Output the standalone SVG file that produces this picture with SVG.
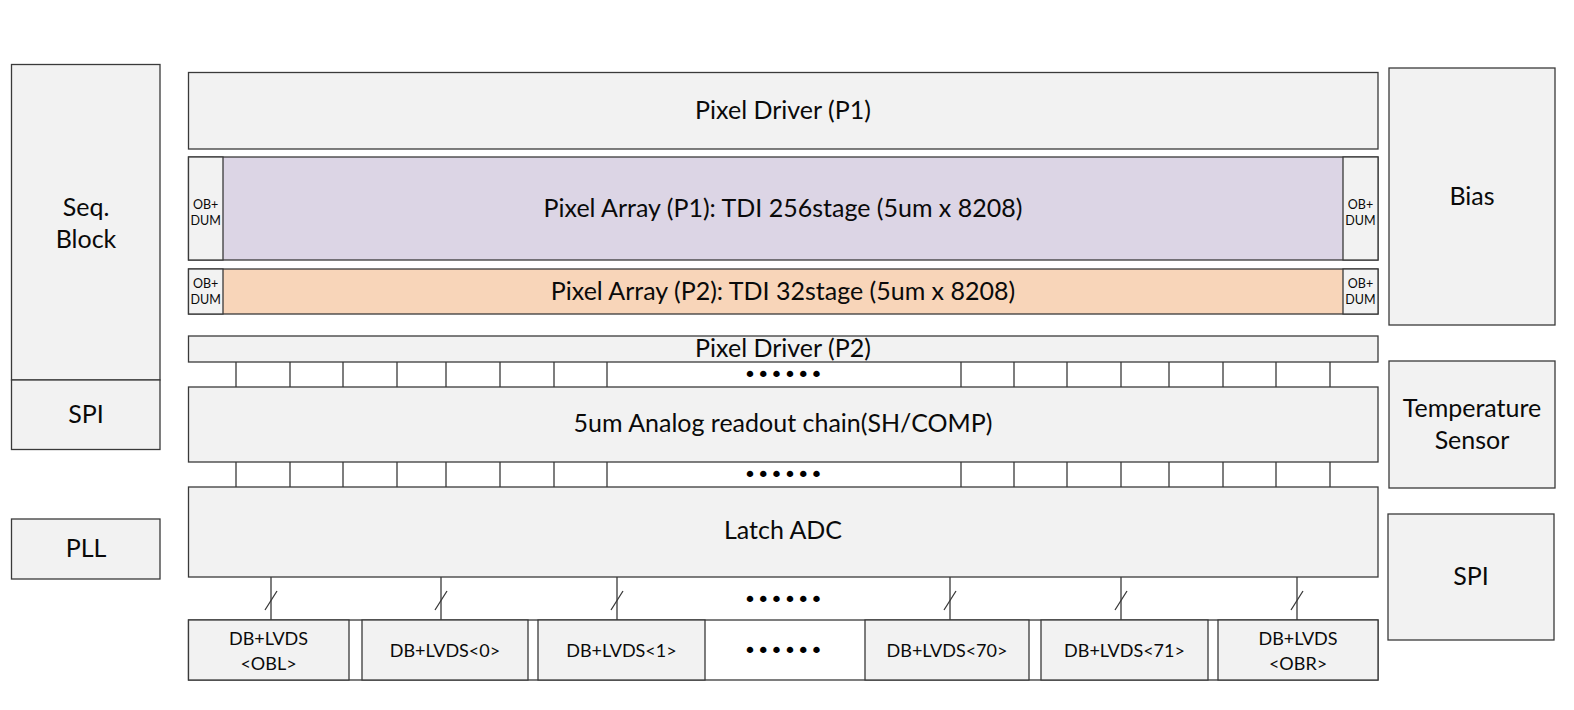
<svg xmlns="http://www.w3.org/2000/svg" width="1574" height="710" viewBox="0 0 1574 710">
<style>
.b{fill:#f2f2f2;stroke:#3a3a3a;stroke-width:1.3}
.w{fill:#ffffff;stroke:#3a3a3a;stroke-width:1.3}
.t{font-family:Lato,"Open Sans",sans-serif;font-size:25px;fill:#0a0a0a;text-anchor:middle}
.s{font-family:Lato,"Open Sans",sans-serif;font-size:12.5px;fill:#0a0a0a;text-anchor:middle}
.d{font-family:Lato,"Open Sans",sans-serif;font-size:18px;fill:#0a0a0a;text-anchor:middle}
.dot{font-family:"DejaVu Sans",sans-serif;font-size:22px;fill:#000;text-anchor:middle}
.ln{stroke:#3a3a3a;stroke-width:1.3;fill:none}
</style>
<rect width="1574" height="710" fill="#ffffff"/>

<g id="seq-block"><rect class="b" x="11.5" y="64.5" width="148.5" height="315.5"/><text class="t" x="86" y="216">Seq.</text><text class="t" x="86" y="248">Block</text></g>
<g id="spi-left"><rect class="b" x="11.5" y="380" width="148.5" height="69.5"/><text class="t" x="86" y="423">SPI</text></g>
<g id="pll"><rect class="b" x="11.5" y="519" width="148.5" height="60"/><text class="t" x="86" y="557">PLL</text></g>

<g id="pixel-driver-p1"><rect class="b" x="188.5" y="72.5" width="1189.5" height="76.5"/><text class="t" x="783" y="119">Pixel Driver (P1)</text></g>

<g id="pixel-array-p1">
<rect x="188.5" y="157" width="1189.5" height="103" fill="#dcd5e5" stroke="#3a3a3a" stroke-width="1.3"/>
<rect class="b" x="188.5" y="157" width="34.5" height="103"/>
<rect class="b" x="1343" y="157" width="35" height="103"/>
<text class="s" x="205.7" y="209">OB+</text><text class="s" x="205.7" y="225">DUM</text>
<text class="s" x="1360.5" y="209">OB+</text><text class="s" x="1360.5" y="225">DUM</text>
<text class="t" x="783" y="217">Pixel Array (P1): TDI 256stage (5um x 8208)</text>
</g>

<g id="pixel-array-p2">
<rect x="188.5" y="269" width="1189.5" height="45" fill="#f8d5b9" stroke="#3a3a3a" stroke-width="1.3"/>
<rect class="b" x="188.5" y="269" width="34.5" height="45"/>
<rect class="b" x="1343" y="269" width="35" height="45"/>
<text class="s" x="205.7" y="288">OB+</text><text class="s" x="205.7" y="304">DUM</text>
<text class="s" x="1360.5" y="288">OB+</text><text class="s" x="1360.5" y="304">DUM</text>
<text class="t" x="783" y="300">Pixel Array (P2): TDI 32stage (5um x 8208)</text>
</g>

<g id="pixel-driver-p2"><rect class="b" x="188.5" y="336" width="1189.5" height="26"/><text class="t" x="783" y="357">Pixel Driver (P2)</text></g>
<g id="analog-chain"><rect class="b" x="188.5" y="387" width="1189.5" height="75"/><text class="t" x="783" y="432">5um Analog readout chain(SH/COMP)</text></g>
<g id="latch-adc"><rect class="b" x="188.5" y="487" width="1189.5" height="90"/><text class="t" x="783" y="539">Latch ADC</text></g>

<g id="bias"><rect class="b" x="1389" y="68" width="166" height="257"/><text class="t" x="1472" y="205">Bias</text></g>
<g id="temperature-sensor"><rect class="b" x="1389" y="361" width="166" height="127"/><text class="t" x="1472" y="417">Temperature</text><text class="t" x="1472" y="449">Sensor</text></g>
<g id="spi-right"><rect class="b" x="1388" y="514" width="166" height="126"/><text class="t" x="1471" y="585">SPI</text></g>

<g id="db-row">
<rect class="w" x="188.5" y="620" width="1189.5" height="60"/>
<text class="dot" x="750 763.3 776.6 790 803.3 816.6" y="657.5">••••••</text>
</g>
<g id="db-obl"><rect class="b" x="188.5" y="620" width="160.5" height="60"/><text class="d" x="268.5" y="645">DB+LVDS</text><text class="d" x="268.5" y="670">&lt;OBL&gt;</text></g>
<g id="db-0"><rect class="b" x="362" y="620" width="166" height="60"/><text class="d" x="445" y="657">DB+LVDS&lt;0&gt;</text></g>
<g id="db-1"><rect class="b" x="538" y="620" width="167" height="60"/><text class="d" x="621.5" y="657">DB+LVDS&lt;1&gt;</text></g>
<g id="db-70"><rect class="b" x="865" y="620" width="164" height="60"/><text class="d" x="947" y="657">DB+LVDS&lt;70&gt;</text></g>
<g id="db-71"><rect class="b" x="1041" y="620" width="167" height="60"/><text class="d" x="1124.5" y="657">DB+LVDS&lt;71&gt;</text></g>
<g id="db-obr"><rect class="b" x="1218" y="620" width="160" height="60"/><text class="d" x="1298" y="645">DB+LVDS</text><text class="d" x="1298" y="670">&lt;OBR&gt;</text></g>

<g id="connectors">
<path class="ln" d="M236 362V387M290 362V387M343 362V387M397 362V387M446 362V387M500 362V387M554 362V387M607 362V387M961 362V387M1014 362V387M1067 362V387M1121 362V387M1169 362V387M1223 362V387M1276 362V387M1330 362V387"/>
<path class="ln" d="M236 462V487M290 462V487M343 462V487M397 462V487M446 462V487M500 462V487M554 462V487M607 462V487M961 462V487M1014 462V487M1067 462V487M1121 462V487M1169 462V487M1223 462V487M1276 462V487M1330 462V487"/>
<text class="dot" x="750 763.3 776.6 790 803.3 816.6" y="381.5">••••••</text>
<text class="dot" x="750 763.3 776.6 790 803.3 816.6" y="481.5">••••••</text>
<text class="dot" x="750 763.3 776.6 790 803.3 816.6" y="606.5">••••••</text>
<path class="ln" d="M271 577V620M441 577V620M617 577V620M950 577V620M1121 577V620M1297 577V620"/>
<path class="ln" stroke-width="1" d="M265 610L277 591M435 610L447 591M611 610L623 591M944 610L956 591M1115 610L1127 591M1291 610L1303 591"/>
</g>
</svg>
